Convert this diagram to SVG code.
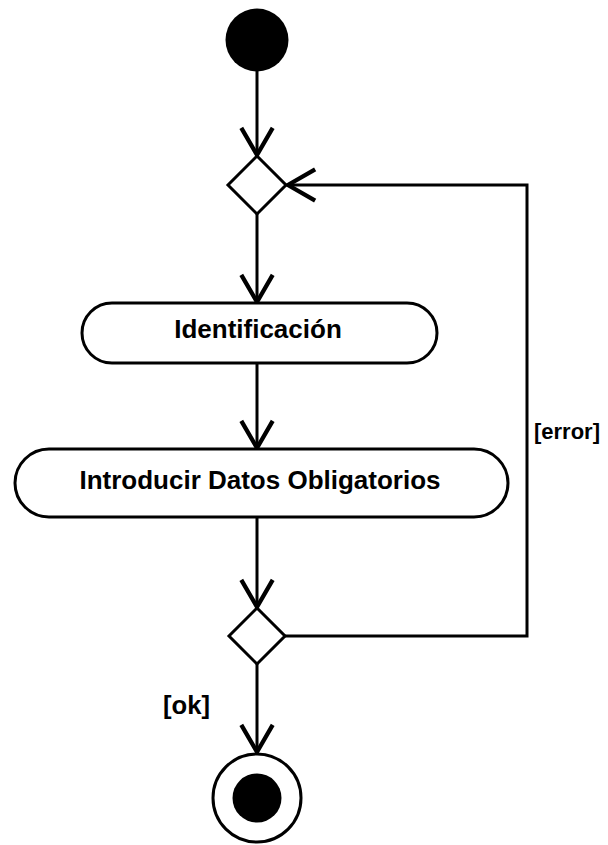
<svg xmlns="http://www.w3.org/2000/svg" width="608" height="845" viewBox="0 0 608 845">
  <defs>
    <marker id="arrow" markerUnits="userSpaceOnUse" markerWidth="40" markerHeight="40" viewBox="-22 -14 26 28" refX="0" refY="0" orient="auto" overflow="visible">
      <path d="M-19,-11 L0,0 L-19,11" fill="none" stroke="#000" stroke-width="3" stroke-linejoin="miter"/>
    </marker>
  </defs>
  <style>
    .shape { fill: #fff; stroke: #000; stroke-width: 3; }
    .solid { fill: #000; stroke: none; }
    .edge { fill: none; stroke: #000; stroke-width: 3; marker-end: url(#arrow); }
    .label { font-family: "Liberation Sans", Arial, sans-serif; font-weight: bold; font-size: 26px; fill: #000; }
    .guard { font-family: "Liberation Sans", Arial, sans-serif; font-weight: bold; font-size: 22px; fill: #000; }
  </style>
  <rect width="608" height="845" fill="#fff"/>

  <g id="connectors">
    <path class="edge" d="M257,71 L257,155"/>
    <path class="edge" d="M257,214 L257,302"/>
    <path class="edge" d="M257,363 L257,448"/>
    <path class="edge" d="M257,518 L257,607"/>
    <path class="edge" d="M257,664 L257,752"/>
    <path class="edge" d="M285,636 L527,636 L527,185 L288,185"/>
    <text class="guard" x="534" y="439">[error]</text>
    <text class="label" x="163" y="714" textLength="47" lengthAdjust="spacingAndGlyphs">[ok]</text>
  </g>

  <g id="start">
    <circle class="solid" cx="257" cy="40" r="31.5"/>
  </g>

  <g id="decision1">
    <polygon class="shape" points="257,156 286,185 257,214 228,185"/>
  </g>

  <g id="identificacion">
    <rect class="shape" x="82" y="303" width="355" height="60" rx="30" ry="30"/>
    <text class="label" x="258" y="338" text-anchor="middle">Identificación</text>
  </g>

  <g id="introducir">
    <rect class="shape" x="15" y="449" width="493" height="68" rx="34" ry="34"/>
    <text class="label" x="260" y="489" text-anchor="middle">Introducir Datos Obligatorios</text>
  </g>

  <g id="decision2">
    <polygon class="shape" points="257,608 285,636 257,664 229,636"/>
  </g>

  <g id="end">
    <circle class="shape" cx="257" cy="798" r="44"/>
    <circle class="solid" cx="257" cy="798" r="24.5"/>
  </g>
</svg>
